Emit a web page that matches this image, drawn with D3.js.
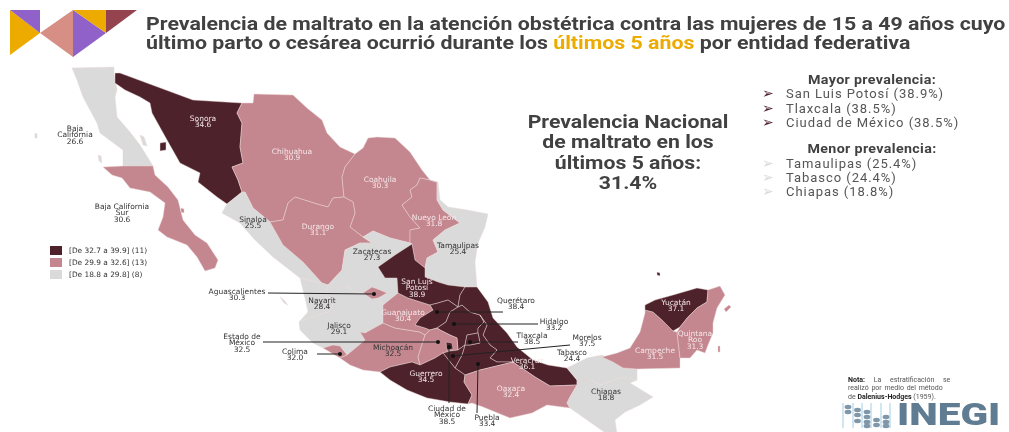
<!DOCTYPE html>
<html>
<head>
<meta charset="utf-8">
<script src="https://cdn.jsdelivr.net/npm/d3@7"></script>
<style>
html, body { margin: 0; padding: 0; background: #fff; }
svg { display: block; filter: blur(0.35px); }
text { font-family: Roboto, sans-serif; }
.maplabel { font-family: "DejaVu Sans", sans-serif; font-size: 7.5px; text-anchor: middle; }
</style>
</head>
<body>
<div id="chart"></div>
<script>
// values
var stateNames = ['Baja California', 'Baja California Sur', 'Sonora', 'Chihuahua', 'Coahuila', 'Nuevo León', 'Tamaulipas', 'Sinaloa', 'Durango', 'Zacatecas', 'Nayarit', 'Jalisco', 'Aguascalientes', 'Colima', 'Michoacán', 'Guanajuato', 'San Luis Potosí', 'Querétaro', 'Hidalgo', 'Veracruz', 'Puebla', 'Tlaxcala', 'Estado de México', 'Ciudad de México', 'Morelos', 'Guerrero', 'Oaxaca', 'Tabasco', 'Chiapas', 'Campeche', 'Yucatán', 'Quintana Roo'];
var stateValues = [26.6, 30.6, 34.6, 30.9, 30.3, 31.8, 25.4, 25.5, 31.1, 27.3, 28.4, 29.1, 30.3, 32.0, 32.5, 30.4, 38.9, 38.4, 33.2, 36.1, 33.4, 38.5, 32.5, 38.5, 37.5, 34.5, 32.4, 24.4, 18.8, 31.5, 37.1, 31.3];
var classBreaks = [29.9, 32.7];
var classColors = ['#dadada', '#c5878f', '#4e222b'];
var legendLabels = ['[De 18.8 a 29.8] (8)', '[De 29.9 a 32.6] (13)', '[De 32.7 a 39.9] (11)'];
var mayorItems = ['San Luis Potosí (38.9%)', 'Tlaxcala (38.5%)', 'Ciudad de México (38.5%)'];
var menorItems = ['Tamaulipas (25.4%)', 'Tabasco (24.4%)', 'Chiapas (18.8%)'];
var nationalLines = ['Prevalencia Nacional', 'de maltrato en los', 'últimos 5 años:', '31.4%'];

// state outlines, in map grid units
var outlines = {
  'Baja California': [[[72,68],[114,67],[114,73],[117,90],[115,97],[117,117],[130,132],[140,145],[153,166],[123,166],[123,150],[100,133],[97,123],[83,97],[77,80]],
    [[140,135],[144,137],[147,146],[143,145]], [[35,133],[37,134],[37,138],[35,138]], [[98,155],[101,156],[102,163],[99,161]], [[280,297],[284,300],[288,305],[284,303]]],
  'Baja California Sur': [[[103,167],[123,166],[153,166],[155,175],[168,187],[178,200],[183,220],[195,235],[207,243],[218,260],[215,268],[205,271],[197,257],[187,245],[167,237],[158,230],[163,217],[165,203],[150,192],[130,188],[122,178],[112,175]],
    [[181,208],[184,209],[184,213],[181,212]]],
  'Sonora': [[[115,73],[120,73],[193,100],[242,103],[237,113],[242,123],[240,147],[243,163],[232,167],[238,180],[242,192],[227,204],[217,197],[198,182],[200,173],[180,163],[167,140],[152,113],[150,103],[140,97],[125,90],[115,83]],
    [[160,143],[166,142],[166,150],[160,151]]],
  'Chihuahua': [[[242,103],[253,103],[254,94],[293,95],[307,108],[322,120],[327,133],[340,147],[355,154],[345,167],[342,177],[344,197],[333,198],[328,207],[317,204],[295,197],[288,203],[283,220],[270,222],[253,208],[245,192],[242,192],[238,180],[232,167],[243,163],[240,147],[242,123],[237,113]]],
  'Coahuila': [[[355,154],[363,148],[368,138],[377,137],[395,138],[410,152],[422,170],[430,180],[420,178],[417,185],[410,190],[412,197],[402,205],[410,217],[420,228],[410,230],[410,243],[390,238],[373,231],[363,237],[350,227],[355,213],[353,202],[344,197],[342,177],[345,167]]],
  'Nuevo León': [[[430,180],[437,182],[437,200],[443,210],[460,223],[445,230],[433,240],[438,252],[427,258],[425,268],[415,260],[412,244],[410,243],[410,230],[420,228],[410,217],[402,205],[412,197],[410,190],[417,185],[420,178]]],
  'Tamaulipas': [[[430,180],[438,182],[440,200],[448,207],[467,210],[488,214],[485,227],[478,243],[475,262],[477,287],[465,287],[448,285],[438,282],[425,277],[425,268],[427,258],[438,252],[433,240],[445,230],[460,223],[443,210],[437,200],[437,182]]],
  'Sinaloa': [[[227,204],[242,192],[245,192],[253,208],[270,222],[283,245],[303,262],[322,283],[300,278],[273,257],[255,240],[240,223],[222,213]]],
  'Durango': [[[270,222],[283,220],[288,203],[295,197],[317,204],[328,207],[333,198],[344,197],[353,202],[355,213],[350,227],[363,237],[372,243],[360,243],[345,250],[342,270],[328,285],[322,283],[303,262],[283,245]]],
  'Zacatecas': [[[342,270],[345,250],[360,243],[372,243],[363,237],[373,231],[390,238],[410,243],[412,244],[395,255],[378,267],[385,278],[397,278],[398,293],[383,305],[378,298],[387,293],[380,290],[372,287],[363,293],[355,292],[345,285],[328,285]]],
  'Nayarit': [[[300,278],[322,283],[328,285],[326,297],[334,303],[328,312],[315,316],[299,322],[308,312],[305,298]]],
  'Jalisco': [[[299,322],[315,316],[328,312],[334,303],[326,297],[328,285],[345,285],[355,292],[363,293],[372,299],[378,298],[383,305],[383,323],[365,333],[360,332],[365,340],[347,355],[340,346],[333,345],[323,348],[313,343],[300,330]]],
  'Aguascalientes': [[[363,293],[372,287],[380,290],[387,293],[378,298],[372,299]]],
  'Colima': [[[323,348],[333,345],[340,346],[347,355],[340,358]]],
  'Michoacán': [[[340,358],[347,355],[365,340],[360,332],[365,333],[383,323],[395,328],[420,332],[425,335],[418,357],[420,365],[412,362],[390,367],[380,372],[363,370],[350,365]]],
  'Guanajuato': [[[383,305],[398,293],[408,298],[430,305],[433,310],[420,318],[415,325],[425,328],[430,330],[425,335],[420,332],[395,328],[383,323]]],
  'San Luis Potosí': [[[412,244],[415,260],[425,268],[425,277],[438,282],[448,285],[465,287],[460,295],[458,307],[448,300],[438,303],[430,305],[408,298],[398,293],[397,278],[385,278],[378,267],[395,255]]],
  'Querétaro': [[[430,305],[438,303],[448,300],[458,307],[450,312],[446,322],[437,328],[430,330],[425,328],[415,325],[420,318],[433,310]]],
  'Hidalgo': [[[450,312],[458,307],[462,305],[470,312],[480,315],[484,322],[478,328],[478,333],[467,335],[465,345],[458,350],[457,338],[450,335],[440,330],[437,328],[446,322]]],
  'Veracruz': [[[465,287],[477,287],[488,302],[493,318],[507,333],[517,347],[533,360],[548,365],[567,368],[577,380],[577,385],[550,386],[535,377],[513,362],[497,362],[490,358],[497,350],[490,345],[483,335],[487,325],[480,315],[470,312],[462,305],[458,307],[460,295]]],
  'Puebla': [[[480,315],[487,325],[483,335],[490,345],[497,350],[490,358],[497,362],[513,362],[480,370],[465,375],[455,368],[462,355],[465,345],[470,345],[480,343],[478,333],[478,328],[484,322]]],
  'Tlaxcala': [[[467,335],[478,333],[480,343],[470,345],[465,345]]],
  'Estado de México': [[[425,335],[430,330],[437,328],[440,330],[450,335],[457,338],[458,350],[450,351],[443,353],[435,358],[420,365],[418,357]]],
  'Ciudad de México': [[[446,342],[452,343],[453,349],[447,350]]],
  'Morelos': [[[443,353],[450,351],[458,350],[465,345],[462,355],[455,368]]],
  'Guerrero': [[[380,372],[390,367],[412,362],[420,365],[435,358],[443,353],[455,368],[465,375],[464,382],[472,395],[468,404],[450,402],[427,398],[407,390],[390,380]]],
  'Oaxaca': [[[464,382],[465,375],[480,370],[513,362],[535,377],[550,386],[577,385],[570,397],[567,403],[570,408],[547,405],[532,413],[510,418],[483,407],[472,403],[468,404],[472,395]]],
  'Tabasco': [[[567,368],[587,358],[602,355],[613,362],[623,368],[637,369],[637,380],[622,377],[600,385],[590,380],[577,380]]],
  'Chiapas': [[[577,380],[590,380],[600,385],[622,377],[637,380],[630,383],[653,397],[640,405],[625,412],[615,420],[617,434],[607,434],[570,408],[567,403],[570,397],[577,385]]],
  'Campeche': [[[645,305],[645,310],[653,312],[662,320],[673,331],[677,332],[680,358],[680,368],[637,369],[623,368],[613,362],[602,357],[617,353],[630,348],[640,332],[645,313]]],
  'Yucatán': [[[645,305],[655,300],[673,295],[697,288],[708,290],[707,302],[697,308],[688,317],[680,327],[673,331],[662,320],[653,312],[645,310]],
    [[657,272],[660,273],[660,276],[657,275]]],
  'Quintana Roo': [[[677,332],[680,327],[688,317],[697,308],[707,302],[708,290],[720,286],[725,295],[717,308],[713,323],[713,333],[708,345],[705,353],[697,350],[690,358],[680,358]],
    [[724,309],[729,305],[731,307],[726,312]], [[718,346],[720,346],[720,352],[718,352]]]
};

// name, value lines and leaders placed on the same grid
var labelPlaces = [
  {t: ['Baja', 'California', '26.6'], at: [75, 128], c: 'out'},
  {t: ['Sonora', '34.6'], at: [203, 118], c: 'in'},
  {t: ['Baja California', 'Sur', '30.6'], at: [122, 206], c: 'out'},
  {t: ['Chihuahua', '30.9'], at: [292, 151], c: 'in'},
  {t: ['Coahuila', '30.3'], at: [380, 179], c: 'in'},
  {t: ['Durango', '31.1'], at: [318, 226], c: 'in'},
  {t: ['Nuevo León', '31.8'], at: [434, 217], c: 'in'},
  {t: ['Sinaloa', '25.5'], at: [253, 219], c: 'out'},
  {t: ['Tamaulipas', '25.4'], at: [458, 245], c: 'out'},
  {t: ['Zacatecas', '27.3'], at: [372, 251], c: 'out'},
  {t: ['San Luis', 'Potosí', '38.9'], at: [417, 281], c: 'in'},
  {t: ['Guanajuato', '30.4'], at: [403, 312], c: 'in'},
  {t: ['Querétaro', '38.4'], at: [516, 300], c: 'out', line: [[503, 312], [437, 312]]},
  {t: ['Hidalgo', '33.2'], at: [554, 321], c: 'out', line: [[538, 324], [454, 324]]},
  {t: ['Tlaxcala', '38.5'], at: [532, 335], c: 'out', line: [[518, 342], [470, 342]]},
  {t: ['Morelos', '37.5'], at: [587, 337], c: 'out', line: [[570, 345], [453, 356]]},
  {t: ['Tabasco', '24.4'], at: [572, 352], c: 'out'},
  {t: ['Veracruz', '36.1'], at: [527, 360], c: 'in'},
  {t: ['Oaxaca', '32.4'], at: [511, 388], c: 'in'},
  {t: ['Chiapas', '18.8'], at: [606, 391], c: 'out'},
  {t: ['Guerrero', '34.5'], at: [426, 373], c: 'in'},
  {t: ['Ciudad de', 'México', '38.5'], at: [447, 408], c: 'out', line: [[449, 403], [449, 347]]},
  {t: ['Puebla', '33.4'], at: [487, 417], c: 'out', line: [[477, 413], [478, 364]]},
  {t: ['Yucatán', '37.1'], at: [676, 302], c: 'in'},
  {t: ['Quintana', 'Roo', '31.3'], at: [695, 333], c: 'in'},
  {t: ['Campeche', '31.5'], at: [655, 350], c: 'in'},
  {t: ['Aguascalientes', '30.3'], at: [237, 291], c: 'out', line: [[268, 293], [374, 294]]},
  {t: ['Nayarit', '28.4'], at: [322, 300], c: 'out'},
  {t: ['Jalisco', '29.1'], at: [339, 325], c: 'out'},
  {t: ['Estado de', 'México', '32.5'], at: [242, 336], c: 'out', line: [[263, 342], [438, 342]]},
  {t: ['Colima', '32.0'], at: [295, 351], c: 'out', line: [[317, 354], [340, 354]]},
  {t: ['Michoacán', '32.5'], at: [393, 347], c: 'out'}
];

var width = 1009, height = 432;
var svg = d3.select('#chart').append('svg').attr('width', width).attr('height', height);

// logo
var logoTris = [
  {c: '#edab00', p: [[10, 10], [40, 33], [10, 55]]},
  {c: '#9061c9', p: [[10, 10], [40, 10], [40, 33]]},
  {c: '#d78e85', p: [[40, 33], [73, 10], [73, 57]]},
  {c: '#9061c9', p: [[73, 10], [106, 33], [73, 57]]},
  {c: '#edab00', p: [[73, 10], [106, 10], [106, 33]]},
  {c: '#95434f', p: [[106, 10], [137, 10], [106, 33]]}
];
svg.append('g').selectAll('polygon').data(logoTris).enter().append('polygon')
  .attr('points', function(d) { return d.p.join(' '); })
  .attr('fill', function(d) { return d.c; });

// title, the reference is stretched sideways
var title = svg.append('text').attr('transform', 'translate(146,0) scale(1.148,1)')
  .attr('font-weight', 700).attr('font-size', 18.6).attr('fill', '#414141');
title.append('tspan').attr('x', 0).attr('y', 30).text('Prevalencia de maltrato en la atención obstétrica contra las mujeres de 15 a 49 años cuyo');
var t2 = title.append('tspan').attr('x', 0).attr('y', 49);
t2.append('tspan').text('último parto o cesárea ocurrió durante los ');
t2.append('tspan').attr('fill', '#edab00').text('últimos 5 años');
t2.append('tspan').text(' por entidad federativa');

// map, rings get closed here so the traced tables stay short
var features = stateNames.map(function(name, i) {
  return {
    type: 'Feature',
    properties: {name: name, value: stateValues[i]},
    geometry: {type: 'MultiPolygon', coordinates: outlines[name].map(function(r) { return [r.concat([r[0]])]; })}
  };
});
var collection = {type: 'FeatureCollection', features: features};
var projection = d3.geoIdentity().fitExtent([[35, 67], [731, 434]], collection);
var path = d3.geoPath(projection);
var color = d3.scaleThreshold().domain(classBreaks).range(classColors);

svg.append('g').selectAll('path').data(features).enter().append('path')
  .attr('d', path)
  .attr('fill', function(d) { return color(d.properties.value); })
  .attr('stroke', '#ead9d6')
  .attr('stroke-width', 0.45)
  .attr('stroke-linejoin', 'round');

// leaders
var leaders = labelPlaces.filter(function(d) { return d.line; });
var leaderG = svg.append('g');
leaderG.selectAll('line').data(leaders).enter().append('line')
  .attr('x1', function(d) { return projection(d.line[0])[0]; })
  .attr('y1', function(d) { return projection(d.line[0])[1]; })
  .attr('x2', function(d) { return projection(d.line[1])[0]; })
  .attr('y2', function(d) { return projection(d.line[1])[1]; })
  .attr('stroke', '#222').attr('stroke-width', 1);
leaderG.selectAll('circle').data(leaders).enter().append('circle')
  .attr('cx', function(d) { return projection(d.line[1])[0]; })
  .attr('cy', function(d) { return projection(d.line[1])[1]; })
  .attr('r', 2).attr('fill', '#111');

// map labels, one text per state
var labelG = svg.append('g');
labelPlaces.forEach(function(d) {
  var p = projection(d.at);
  var txt = labelG.append('text').attr('class', 'maplabel')
    .attr('fill', d.c === 'in' ? '#f3e6e8' : '#333');
  d.t.forEach(function(line, i) {
    txt.append('tspan').attr('x', p[0]).attr('y', p[1] + 2.5 + i * 6.8).text(line);
  });
});

// legend
var legendG = svg.append('g');
var legendRows = d3.scaleBand().domain([2, 1, 0]).range([245, 281]);
legendG.selectAll('rect').data([2, 1, 0]).enter().append('rect')
  .attr('x', 50).attr('y', function(d) { return legendRows(d) + 1; })
  .attr('width', 12).attr('height', 9)
  .attr('fill', function(d) { return classColors[d]; });
legendG.selectAll('text').data([2, 1, 0]).enter().append('text')
  .attr('x', 69).attr('y', function(d) { return legendRows(d) + 8; })
  .attr('font-size', 7.4).attr('fill', '#333')
  .style('font-family', '"DejaVu Sans", sans-serif')
  .text(function(d) { return legendLabels[d]; });

// national figure
svg.append('g').selectAll('text').data(nationalLines).enter().append('text')
  .attr('transform', function(d, i) { return 'translate(628,' + (128 + i * 20.3) + ') scale(1.18,1)'; })
  .attr('text-anchor', 'middle').attr('font-weight', 700).attr('font-size', 18)
  .attr('fill', '#414141')
  .text(function(d) { return d; });

// highlights list
function addList(head, items, yHead, ys, arrowColor) {
  svg.append('text').attr('transform', 'translate(872,' + yHead + ') scale(1.17,1)').attr('text-anchor', 'middle')
    .attr('font-weight', 700).attr('font-size', 12.2).attr('letter-spacing', 0.3).attr('fill', '#414141').text(head);
  items.forEach(function(item, i) {
    svg.append('text').attr('x', 762).attr('y', ys[i] + 5)
      .style('font-family', '"DejaVu Sans", sans-serif').attr('font-size', 14).attr('fill', arrowColor).text('➢');
    svg.append('text').attr('x', 786).attr('y', ys[i] + 4.5)
      .attr('font-size', 13).attr('letter-spacing', 0.95).attr('fill', '#555').text(item);
  });
}
addList('Mayor prevalencia:', mayorItems, 84, [93, 108, 122], '#4e222b');
addList('Menor prevalencia:', menorItems, 153, [163, 177, 191], '#d9d9d9');

// note, justified line by line
var note = svg.append('g').style('font-family', '"DejaVu Sans", sans-serif').attr('font-size', 7).attr('fill', '#555');
var n1 = note.append('text').attr('x', 848).attr('y', 381.5).attr('word-spacing', 7);
n1.append('tspan').attr('font-weight', 700).attr('fill', '#222').text('Nota:');
n1.append('tspan').text(' La estratificación se');
note.append('text').attr('x', 848).attr('y', 390).attr('word-spacing', 1).text('realizó por medio del método');
var n3 = note.append('text').attr('x', 848).attr('y', 398.5);
n3.append('tspan').text('de ');
n3.append('tspan').attr('font-weight', 700).attr('fill', '#222').text('Dalenius-Hodges');
n3.append('tspan').text(' (1959).');

// INEGI logo
var logoCols = [[407, 412], [410, 415, 421], [412, 417, 422, 426], [420, 425], [417, 422, 426]];
var logoG = svg.append('g');
[843, 853, 862, 871, 881, 890].forEach(function(x) {
  logoG.append('line').attr('x1', x).attr('x2', x).attr('y1', 403).attr('y2', 428)
    .attr('stroke', '#bcdcec').attr('stroke-width', 1.4);
});
logoCols.forEach(function(col, i) {
  col.forEach(function(y) {
    logoG.append('ellipse').attr('cx', 848 + i * 9.5).attr('cy', y).attr('rx', 3.4).attr('ry', 2.2).attr('fill', '#7f97a9');
  });
});
logoG.append('text').attr('transform', 'translate(897,424.5) scale(1.33,1)').attr('font-weight', 900).attr('font-size', 30.5)
  .attr('fill', '#5f7c92').text('INEGI');
</script>
</body>
</html>
